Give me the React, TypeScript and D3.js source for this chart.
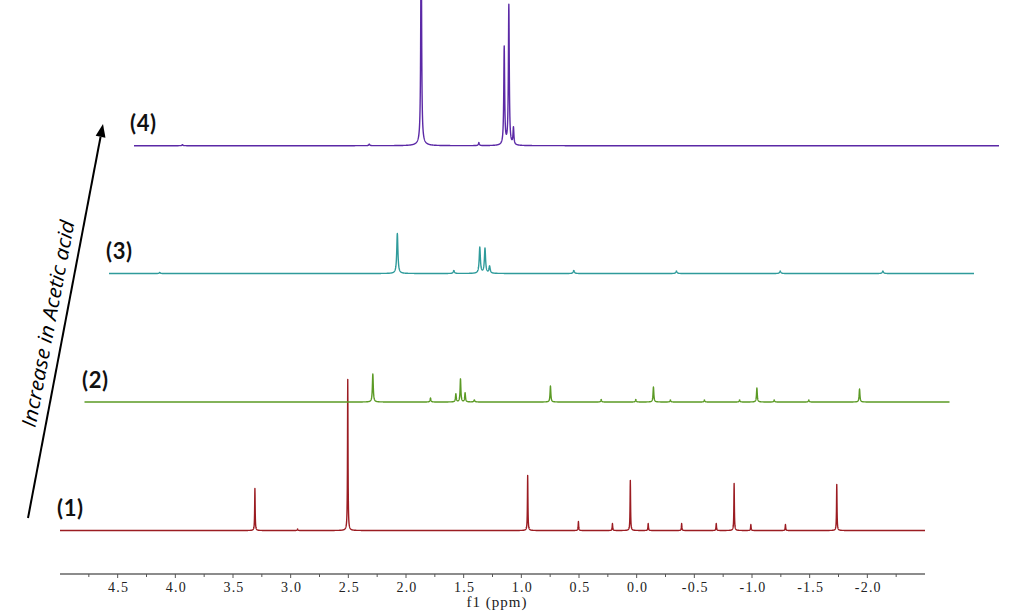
import React from "react";
import * as d3 from "d3";

// ---- Data (peak lists: [ppm, intensity, half-width ppm]) ----
const spectrumLabels = ["(1)", "(2)", "(3)", "(4)"];
const spectrumColors = ["#9b1c22", "#5b9a25", "#2f9b9b", "#5b29a6"];

const peaks1: [number, number, number][] = [
  [3.31, 42, 0.0025], [2.94, 1.5, 0.003], [2.505, 151, 0.0025], [0.945, 55, 0.0025],
  [0.505, 9, 0.0025], [0.21, 7, 0.0025], [0.055, 50, 0.0025], [-0.1, 7, 0.0025],
  [-0.39, 7, 0.0025], [-0.69, 7, 0.0025], [-0.845, 47, 0.0025], [-0.99, 6, 0.0025],
  [-1.29, 6, 0.0025], [-1.735, 46, 0.0025],
];
const peaks2: [number, number, number][] = [
  [2.5, 28, 0.0045], [2.0, 4, 0.004], [1.78, 8, 0.004], [1.74, 23, 0.004],
  [1.7, 9, 0.004], [1.62, 2, 0.005], [0.96, 16, 0.004], [0.52, 2.5, 0.004],
  [0.22, 2.5, 0.004], [0.067, 15, 0.004], [-0.08, 2, 0.004], [-0.375, 2, 0.004],
  [-0.68, 2, 0.004], [-0.83, 14, 0.004], [-0.98, 2, 0.004], [-1.28, 2, 0.004],
  [-1.72, 13, 0.004],
];
const peaks3: [number, number, number][] = [
  [4.56, 1, 0.005], [2.5, 40, 0.006], [2.01, 3, 0.006], [1.785, 26, 0.006],
  [1.74, 25, 0.006], [1.7, 7, 0.006], [0.97, 3, 0.006], [0.08, 2.5, 0.006],
  [-0.82, 2.5, 0.006], [-1.71, 2.5, 0.006],
];
const peaks4: [number, number, number][] = [
  [4.58, 1, 0.005], [2.96, 1.5, 0.005], [2.51, 240, 0.004], [2.51, 3, 0.03],
  [2.01, 3, 0.005], [1.79, 98, 0.0045], [1.75, 140, 0.0045], [1.71, 17, 0.0045],
];
const peakLists = [peaks1, peaks2, peaks3, peaks4];

const majorTicks = [4.5, 4.0, 3.5, 3.0, 2.5, 2.0, 1.5, 1.0, 0.5, 0.0, -0.5, -1.0, -1.5, -2.0];
const minorTicks = [4.75, 4.25, 3.75, 3.25, 2.75, 2.25, 1.75, 1.25, 0.75, 0.25, -0.25, -0.75, -1.25, -1.75, -2.25];
const ppmDomain: [number, number] = [5.0, -2.5];
const axisTitle = "f1 (ppm)";
const arrowText = "Increase in Acetic acid";

// ---- Layout ----
const W = 1024;
const H = 616;
const X0 = 60;
const X1 = 925;
const AXIS_Y = 574;
const offsetsX = [0, 24.5, 49, 74];
const baselines = [530.5, 402, 273.5, 145.7];
const labelPos = [
  [57, 516],
  [82, 388],
  [106, 259],
  [130, 131],
];

function spectrumPoints(list: [number, number, number][]) {
  const pts: number[] = [];
  for (let p = ppmDomain[0]; p >= ppmDomain[1] - 1e-9; p -= 0.001) pts.push(p);
  list.forEach((pk) => pts.push(pk[0]));
  pts.sort((a, b) => b - a);
  return pts.map((p) => {
    let v = 0;
    for (const [c, h, g] of list) {
      const d = p - c;
      v += (h * g * g) / (d * d + g * g);
    }
    return [p, v] as [number, number];
  });
}

export default function App() {
  const x = d3.scaleLinear().domain(ppmDomain).range([X0, X1]);
  const y = d3.scaleLinear().domain([0, 150]).range([0, -150]);

  const paths = peakLists.map((list, i) => {
    const line = d3
      .line<[number, number]>()
      .x((d) => x(d[0]) + offsetsX[i])
      .y((d) => baselines[i] + y(d[1]));
    return line(spectrumPoints(list)) || "";
  });

  // arrow
  const ax0 = 28, ay0 = 518, ax1 = 103, ay1 = 124;
  const ang = Math.atan2(ay1 - ay0, ax1 - ax0);
  const angDeg = (ang * 180) / Math.PI;
  const headLen = 13, headW = 5;
  const hx = ax1 - headLen * Math.cos(ang);
  const hy = ay1 - headLen * Math.sin(ang);
  const px = -Math.sin(ang), py = Math.cos(ang);

  return (
    <svg
      width={W}
      height={H}
      style={{ position: "absolute", left: 0, top: 0, background: "#fff" }}
    >
      <rect x={0} y={0} width={W} height={H} fill="#fff" />
      {paths.map((d, i) => (
        <path key={i} d={d} fill="none" stroke={spectrumColors[i]} strokeWidth={1.4} strokeLinejoin="round" />
      ))}
      {spectrumLabels.map((t, i) => (
        <text
          key={t}
          x={labelPos[i][0]}
          y={labelPos[i][1]}
          fontFamily="Lato, 'Open Sans', sans-serif"
          fontWeight="bold"
          fontSize={22}
          letterSpacing={0.6}
          fill="#111"
        >
          {t}
        </text>
      ))}
      {/* axis */}
      <line x1={X0} x2={X1} y1={AXIS_Y} y2={AXIS_Y} stroke="#666" strokeWidth={1.3} />
      {majorTicks.map((t) => (
        <g key={"M" + t}>
          <line x1={x(t)} x2={x(t)} y1={AXIS_Y} y2={AXIS_Y + 4} stroke="#555" strokeWidth={1} />
          <text
            x={x(t) + 1}
            y={592}
            textAnchor="middle"
            fontFamily="'Liberation Serif', 'Times New Roman', serif"
            fontSize={14}
            letterSpacing={1.2}
            fill="#222"
          >
            {t.toFixed(1)}
          </text>
        </g>
      ))}
      {minorTicks.map((t) => (
        <line key={"m" + t} x1={x(t)} x2={x(t)} y1={AXIS_Y} y2={AXIS_Y + 3} stroke="#555" strokeWidth={1} />
      ))}
      <text
        x={497}
        y={607}
        textAnchor="middle"
        fontFamily="'Liberation Serif', 'Times New Roman', serif"
        fontSize={15}
        letterSpacing={1}
        fill="#222"
      >
        {axisTitle}
      </text>
      {/* arrow */}
      <line x1={ax0} y1={ay0} x2={hx} y2={hy} stroke="#000" strokeWidth={2} />
      <polygon
        points={`${ax1},${ay1} ${hx + px * headW},${hy + py * headW} ${hx - px * headW},${hy - py * headW}`}
        fill="#000"
      />
      <text
        transform={`translate(55,325) rotate(${angDeg})`}
        textAnchor="middle"
        fontFamily="'Open Sans', Lato, sans-serif"
        fontStyle="italic"
        fontSize={20}
        textLength={210}
        lengthAdjust="spacingAndGlyphs"
        fill="#000"
      >
        {arrowText}
      </text>
    </svg>
  );
}
